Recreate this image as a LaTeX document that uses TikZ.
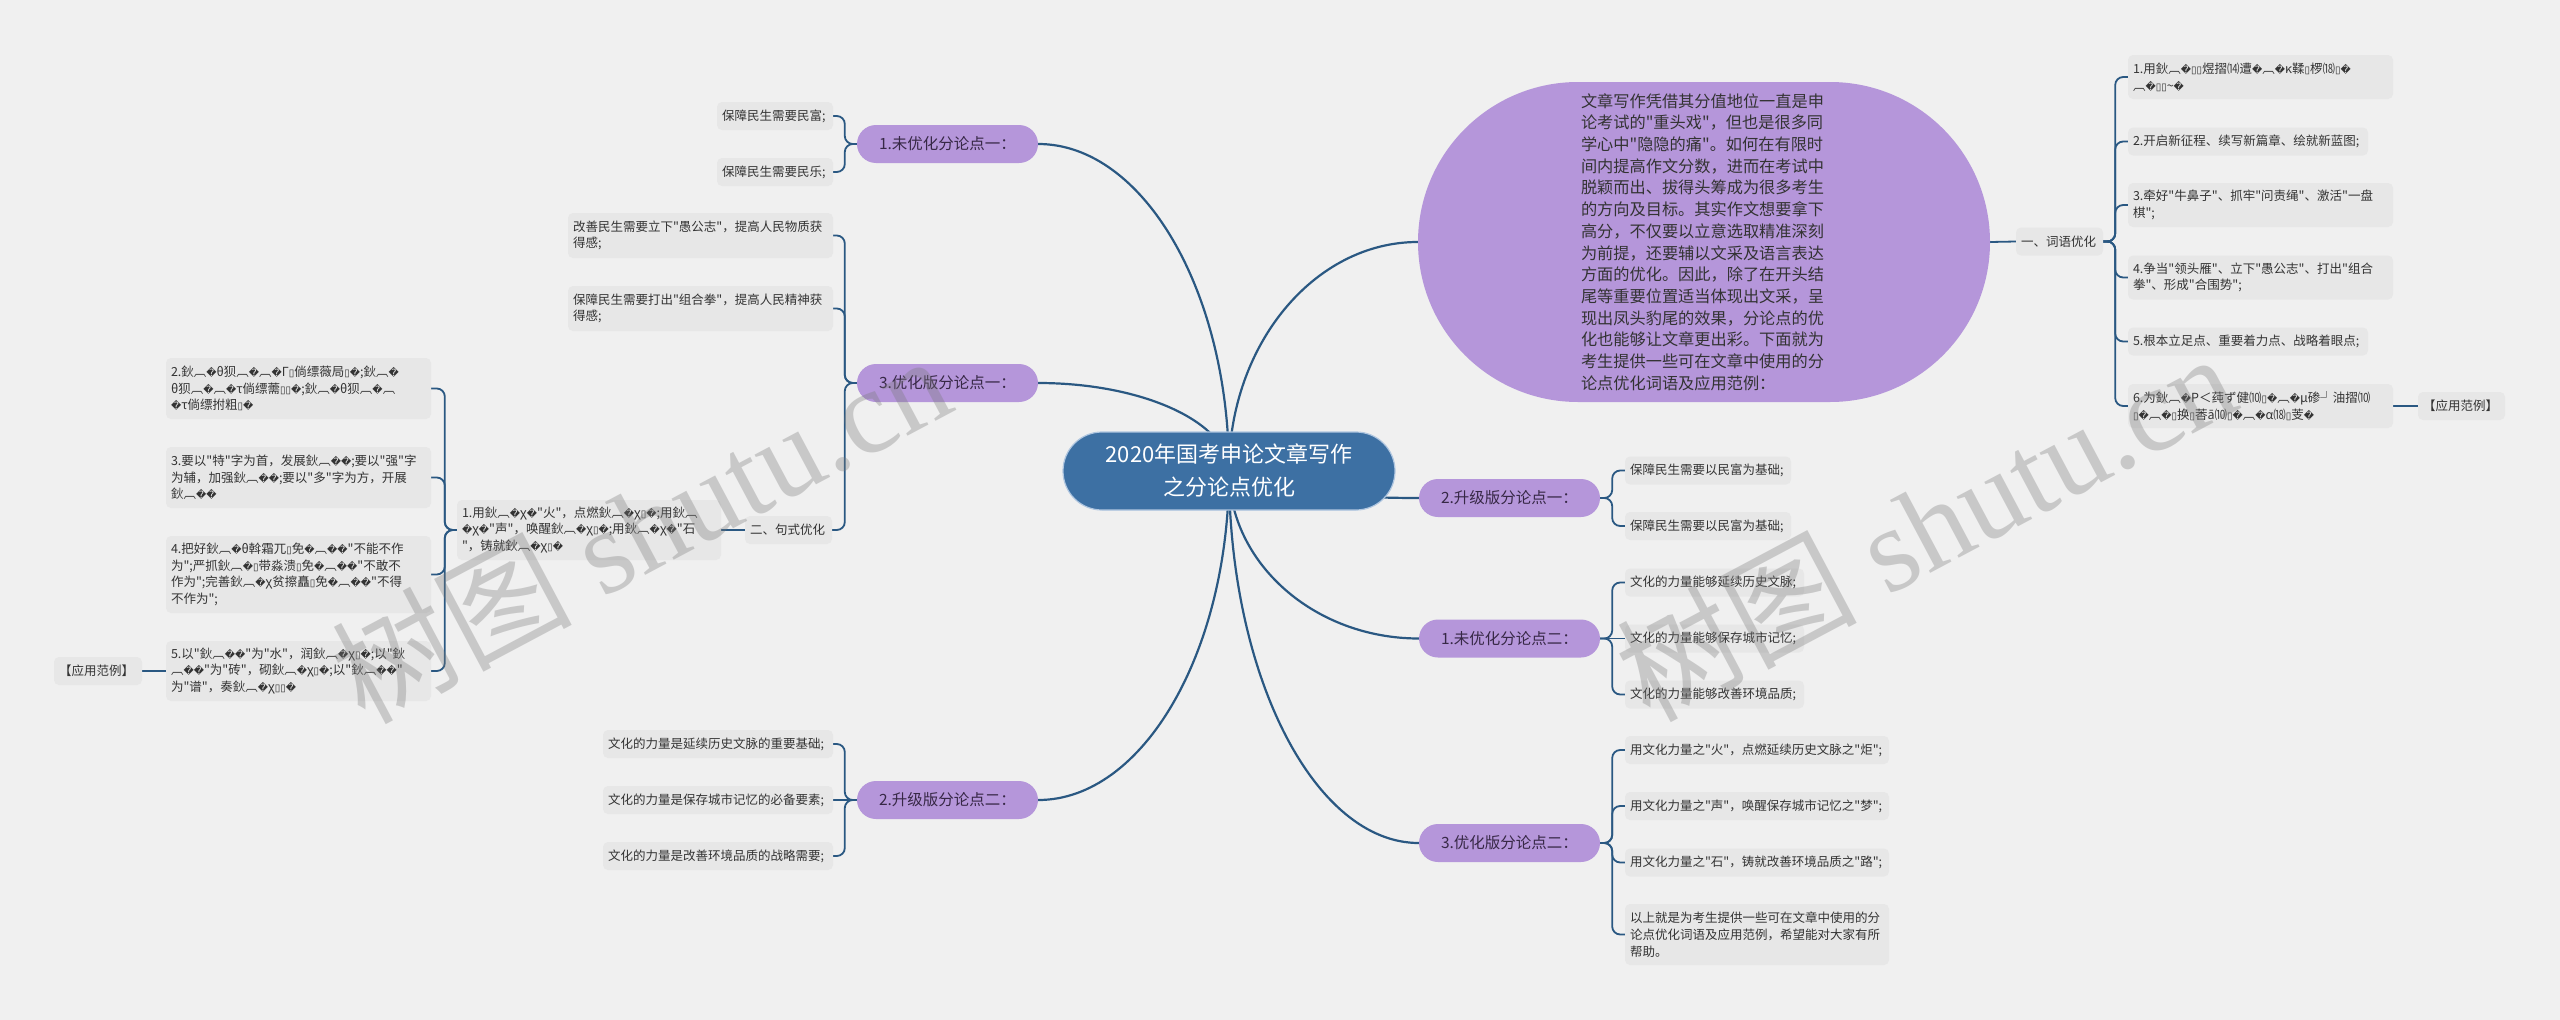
\documentclass[tikz,border=0pt]{standalone}
\usepackage{fontspec}
\newfontfamily\dvfont{DejaVu Sans}
\newfontfamily\wmserif{Liberation Serif}
\newfontfamily\cjkf{Noto Sans CJK SC}
\usetikzlibrary{calc}
\definecolor{bgc}{RGB}{240,240,240}
\definecolor{leafc}{RGB}{231,231,231}
\definecolor{purc}{RGB}{181,150,218}
\definecolor{bluec}{RGB}{61,112,163}
\definecolor{bluebd}{RGB}{175,198,224}
\definecolor{lnc}{RGB}{42,88,130}
\definecolor{txtc}{RGB}{51,51,51}
\definecolor{ptxtc}{RGB}{55,40,70}
\definecolor{wmc}{RGB}{120,120,120}
\newcommand\rpl{{\dvfont\fontsize{10}{12}\selectfont\char"FFFD}}
\newcommand\tofu{{\dvfont\fontsize{10}{12}\selectfont\char"25AF}}
\newcommand\mojb{鈥︹\rpl }
\newcommand\mcurve[2]{\draw[trunk] (#1) .. controls ($(#1)!0.55!(#2 |- #1)$) and ($(#2)!0.55!(#2 |- #1)$) .. (#2);}
\newcommand\brL[2]{\draw[twig] (#1.west) -- ++(-12,0) |- (#2.east);}
\newcommand\brR[2]{\draw[twig] (#1.east) -- ++(12,0) |- (#2.west);}
\pgfdeclarelayer{back}\pgfdeclarelayer{lines}\pgfdeclarelayer{front}
\pgfsetlayers{back,lines,main,front}
\tikzset{
  leaf/.style={fill=leafc, rounded corners=5pt, inner xsep=5pt, inner ysep=0pt, align=left, text=txtc, font=\cjkf\fontsize{12.5}{16.7}\selectfont},
  pill/.style={fill=purc, rounded corners=19pt, minimum width=181pt, minimum height=38pt, inner sep=0pt, text=ptxtc, font=\cjkf\fontsize{15.5}{19}\selectfont},
  cnode/.style={fill=bluec, draw=bluebd, line width=1.2pt, rounded corners=39pt, minimum width=332pt, minimum height=78pt, inner sep=0pt, text=white, align=center, font=\cjkf\fontsize{22}{33}\selectfont},
  stad/.style={fill=purc, rounded corners=160pt, minimum width=572pt, minimum height=320pt, inner sep=0pt, text width=246pt, align=left, text=txtc, font=\cjkf\fontsize{16.2}{21.7}\selectfont},
  trunk/.style={draw=lnc, line width=2.2pt},
  twig/.style={draw=lnc, line width=1.8pt, rounded corners=8pt},
  wm/.style={text=wmc, text opacity=0.33, font=\wmserif\fontsize{120}{120}\selectfont, inner sep=0pt}
}
\begin{document}
\begin{tikzpicture}[x=1pt,y=-1pt]
\begin{pgfonlayer}{back}
\fill[bgc] (0,0) rectangle (2560,1020);
\end{pgfonlayer}

% center and main branches
\node[cnode] (C) at (1229,471) {2020年国考申论文章写作\\之分论点优化};
\node[stad] (ST) at (1704,242) {文章写作凭借其分值地位一直是申\\论考试的"重头戏"，但也是很多同\\学心中"隐隐的痛"。如何在有限时\\间内提高作文分数，进而在考试中\\脱颖而出、拔得头筹成为很多考生\\的方向及目标。其实作文想要拿下\\高分，不仅要以立意选取精准深刻\\为前提，还要辅以文采及语言表达\\方面的优化。因此，除了在开头结\\尾等重要位置适当体现出文采，呈\\现出凤头豹尾的效果，分论点的优\\化也能够让文章更出彩。下面就为\\考生提供一些可在文章中使用的分\\论点优化词语及应用范例：};

\node[pill] (P1) at (947.5,144) {1.未优化分论点一：};
\node[pill] (P3) at (947.5,383) {3.优化版分论点一：};
\node[pill] (P2b) at (947.5,800) {2.升级版分论点二：};
\node[pill] (Q2) at (1509.5,498) {2.升级版分论点一：};
\node[pill] (Q1) at (1509.5,638.5) {1.未优化分论点二：};
\node[pill] (Q3) at (1509.5,843) {3.优化版分论点二：};

% left leaves
\node[leaf, text width=106pt, minimum height=28pt] (L1a) at (775,116) {保障民生需要民富;};
\node[leaf, text width=106pt, minimum height=28pt] (L1b) at (775,172) {保障民生需要民乐;};
\node[leaf, text width=255pt, minimum height=45pt] (L3a) at (700.5,235.5) {改善民生需要立下"愚公志"，提高人民物质获\\得感;};
\node[leaf, text width=255pt, minimum height=45pt] (L3b) at (700.5,308.5) {保障民生需要打出"组合拳"，提高人民精神获\\得感;};
\node[leaf, text width=77pt, minimum height=28pt] (S0) at (788.5,530) {二、句式优化};
\node[leaf, text width=254pt, minimum height=60pt] (S1) at (589,530) {1.用\mojb χ\rpl "火"，点燃\mojb χ\tofu \rpl ;用鈥︹\\\rpl χ\rpl "声"，唤醒\mojb χ\tofu \rpl ;用\mojb χ\rpl "石\\"，铸就\mojb χ\tofu \rpl };
\node[leaf, text width=255pt, minimum height=61pt] (S2) at (298.5,388.5) {2.\mojb θ狈︹\rpl ︹\rpl Γ\tofu 倘缥薇局\tofu \rpl ;\mojb \\θ狈︹\rpl ︹\rpl τ倘缥薷\tofu \tofu \rpl ;\mojb θ狈︹\rpl ︹\\\rpl τ倘缥拊粗\tofu \rpl };
\node[leaf, text width=255pt, minimum height=61pt] (S3) at (298.5,477.5) {3.要以"特"字为首，发展\mojb \rpl ;要以"强"字\\为辅，加强\mojb \rpl ;要以"多"字为方，开展\\\mojb \rpl };
\node[leaf, text width=255pt, minimum height=77pt] (S4) at (298.5,574.5) {4.把好\mojb θ斡霜兀\tofu 免\rpl ︹\rpl \rpl "不能不作\\为";严抓\mojb \tofu 带淼溃\tofu 免\rpl ︹\rpl \rpl "不敢不\\作为";完善\mojb χ贫擦矗\tofu 免\rpl ︹\rpl \rpl "不得\\不作为";};
\node[leaf, text width=255pt, minimum height=60pt] (S5) at (298.5,671) {5.以"\mojb \rpl "为"水"，润\mojb χ\tofu \rpl ;以"鈥\\︹\rpl \rpl "为"砖"，砌\mojb χ\tofu \rpl ;以"\mojb \rpl "\\为"谱"，奏\mojb χ\tofu \tofu \rpl };
\node[leaf, text width=78pt, minimum height=28pt] (A1) at (98,671) {【应用范例】};
\node[leaf, text width=220pt, minimum height=28pt] (B1) at (718,744) {文化的力量是延续历史文脉的重要基础;};
\node[leaf, text width=220pt, minimum height=28pt] (B2) at (718,800) {文化的力量是保存城市记忆的必备要素;};
\node[leaf, text width=220pt, minimum height=28pt] (B3) at (718,856) {文化的力量是改善环境品质的战略需要;};

% right leaves
\node[leaf, text width=156pt, minimum height=28pt] (R1a) at (1708,470.5) {保障民生需要以民富为基础;};
\node[leaf, text width=156pt, minimum height=28pt] (R1b) at (1708,526) {保障民生需要以民富为基础;};
\node[leaf, text width=169pt, minimum height=28pt] (R2a) at (1714.5,582.5) {文化的力量能够延续历史文脉;};
\node[leaf, text width=169pt, minimum height=28pt] (R2b) at (1714.5,638.5) {文化的力量能够保存城市记忆;};
\node[leaf, text width=169pt, minimum height=28pt] (R2c) at (1714.5,694.5) {文化的力量能够改善环境品质;};
\node[leaf, text width=254pt, minimum height=28pt] (R3a) at (1757,750) {用文化力量之"火"，点燃延续历史文脉之"炬";};
\node[leaf, text width=254pt, minimum height=28pt] (R3b) at (1757,806) {用文化力量之"声"，唤醒保存城市记忆之"梦";};
\node[leaf, text width=254pt, minimum height=28pt] (R3c) at (1757,862.5) {用文化力量之"石"，铸就改善环境品质之"路";};
\node[leaf, text width=254pt, minimum height=61pt] (R3d) at (1757,934.5) {以上就是为考生提供一些可在文章中使用的分\\论点优化词语及应用范例，希望能对大家有所\\帮助。};
\node[leaf, text width=77pt, minimum height=28pt] (WP) at (2059.5,241.5) {一、词语优化};
\node[leaf, text width=255pt, minimum height=44pt] (W1) at (2260.5,77) {1.用\mojb \tofu \tofu 煜摺⒁遭\rpl ︹\rpl κ鞣\tofu 椤⒅\tofu \rpl \\︹\rpl \tofu \tofu {\char"7E}\rpl };
\node[leaf, text width=230pt, minimum height=28pt] (W2) at (2248,141.5) {2.开启新征程、续写新篇章、绘就新蓝图;};
\node[leaf, text width=255pt, minimum height=44pt] (W3) at (2260.5,205) {3.牵好"牛鼻子"、抓牢"问责绳"、激活"一盘\\棋";};
\node[leaf, text width=255pt, minimum height=44pt] (W4) at (2260.5,277.5) {4.争当"领头雁"、立下"愚公志"、打出"组合\\拳"、形成"合围势";};
\node[leaf, text width=230pt, minimum height=28pt] (W5) at (2248,341.5) {5.根本立足点、重要着力点、战略着眼点;};
\node[leaf, text width=255pt, minimum height=44pt] (W6) at (2260.5,406) {6.为\mojb P＜莼ず健⑽\tofu \rpl ︹\rpl μ碜┘油摺⑽\\\tofu \rpl ︹\rpl \tofu 换\tofu 莕ā⑽\tofu \rpl ︹\rpl α⒅\tofu 芰\rpl };
\node[leaf, text width=77pt, minimum height=28pt] (A2) at (2461.5,406) {【应用范例】};

% connectors
\begin{pgfonlayer}{lines}
\mcurve{P1.east}{C.center}
\mcurve{P3.east}{C.center}
\mcurve{P2b.east}{C.center}
\mcurve{ST.west}{C.center}
\mcurve{Q2.west}{C.center}
\mcurve{Q1.west}{C.center}
\mcurve{Q3.west}{C.center}
\brL{P1}{L1a}
\brL{P1}{L1b}
\brL{P3}{L3a}
\brL{P3}{L3b}
\brL{P3}{S0}
\draw[twig] (S0.west) -- (S1.east);
\brL{S1}{S2}
\brL{S1}{S3}
\brL{S1}{S4}
\brL{S1}{S5}
\draw[twig] (S5.west) -- (A1.east);
\brL{P2b}{B1}
\draw[twig] (P2b.west) -- (B2.east);
\brL{P2b}{B3}
\brR{Q2}{R1a}
\brR{Q2}{R1b}
\brR{Q1}{R2a}
\draw[twig] (Q1.east) -- (R2b.west);
\brR{Q1}{R2c}
\brR{Q3}{R3a}
\brR{Q3}{R3b}
\brR{Q3}{R3c}
\brR{Q3}{R3d}
\draw[twig] (ST.east) -- (WP.west);
\brR{WP}{W1}
\brR{WP}{W2}
\brR{WP}{W3}
\brR{WP}{W4}
\brR{WP}{W5}
\brR{WP}{W6}
\draw[twig] (W6.east) -- (A2.west);
\end{pgfonlayer}

% watermarks
\begin{pgfonlayer}{front}
\node[wm, rotate=28] (WM1) at (640,527) {{\cjkf 树图} shutu.cn};
\node[wm, rotate=28] (WM2) at (1925,525) {{\cjkf 树图} shutu.cn};
\end{pgfonlayer}
\end{tikzpicture}
\end{document}
